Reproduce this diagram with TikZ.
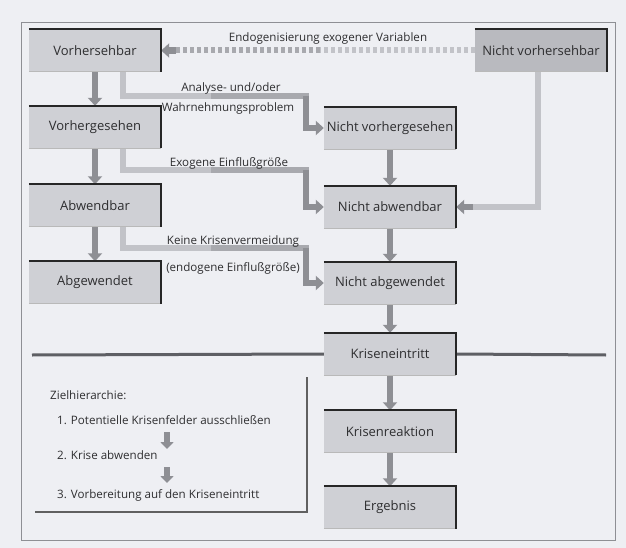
\documentclass[tikz,border=0pt]{standalone}
\usepackage{fontspec}
\setmainfont{Open Sans}
\usetikzlibrary{arrows.meta,calc}
\definecolor{bgc}{HTML}{EEEFF3}
\definecolor{boxc}{HTML}{CFD0D5}
\definecolor{boxd}{HTML}{B9BABF}
\definecolor{arrl}{HTML}{C2C3C8}
\definecolor{arrm}{HTML}{A8A9AE}
\definecolor{arrd}{HTML}{8E8F94}
\definecolor{txt}{HTML}{2E2E30}
\definecolor{framec}{HTML}{8E8F94}
\definecolor{rulec}{HTML}{5E5F64}
\pgfdeclarelayer{bg}\pgfdeclarelayer{arr}\pgfsetlayers{bg,arr,main}
\begin{document}
\begin{tikzpicture}[x=1pt,y=-1pt,
  bx/.style={fill=boxc, minimum width=132pt, minimum height=42pt, inner sep=0pt,
    font=\fontsize{13}{15}\selectfont, text=txt},
  lbl/.style={font=\fontsize{11.6}{13}\selectfont, text=txt, inner sep=0pt},
  topedge/.style={draw=black!85, line width=2pt, line join=miter},
  botedge/.style={draw=gray!55, line width=1.2pt},
  tipD/.style={-{Triangle[width=14pt,length=8pt]}},
  arrD/.style={draw=arrd, line width=6.5pt, tipD},
  arrM/.style={draw=arrm, line width=6.5pt, line cap=rect},
  arrL/.style={draw=arrl, line width=6.5pt, line cap=rect},
  dotstyle/.style={draw=arrl, line width=6pt, dash pattern=on 4pt off 3pt},
  smallarr/.style={draw=arrd, line width=6.5pt, -{Triangle[width=13pt,length=7pt]}}
]
\useasboundingbox (0,0) rectangle (626,548);
\begin{pgfonlayer}{bg}
  \fill[bgc] (0,0) rectangle (626,548);
  \draw[framec, line width=1pt] (21,23) rectangle (615,540);
\end{pgfonlayer}

% boxes
\node[bx] (vs)   at (95,50.5)  {Vorhersehbar};
\node[bx, fill=boxd] (nvs) at (541,50.5) {Nicht vorhersehbar};
\node[bx] (vg)   at (95,127)   {Vorhergesehen};
\node[bx] (nvg)  at (390,128)  {Nicht vorhergesehen};
\node[bx] (ab)   at (95,205.5) {Abwendbar};
\node[bx] (nab)  at (390,207)  {Nicht abwendbar};
\node[bx] (agw)  at (95,282.5) {Abgewendet};
\node[bx] (nagw) at (390,283)  {Nicht abgewendet};
\node[bx] (ke)   at (390,354)  {Kriseneintritt};
\node[bx] (kr)   at (390,431.5) {Krisenreaktion};
\node[bx] (erg)  at (390,507.5) {Ergebnis};

\foreach \n in {vs,nvs,vg,nvg,ab,nab,agw,nagw,ke,kr,erg}{
  \draw[botedge] (\n.south west) -- (\n.south east);
  \draw[topedge] (\n.north west) -- (\n.north east) -- (\n.south east);
}

% labels
\node[lbl] (l0) at (328,38) {Endogenisierung exogener Variablen};
\node[lbl] (l1) at (231,88) {Analyse- und/oder};
\node[lbl] (l2) at (228,108) {Wahrnehmungsproblem};
\node[lbl] (l3) at (229,163) {Exogene Einflußgröße};
\node[lbl] (l4) at (233,241) {Keine Krisenvermeidung};
\node[lbl] (l5) at (233,268) {(endogene Einflußgröße)};

\node[lbl, anchor=west] (z0) at (50,395) {Zielhierarchie:};
\node[lbl, anchor=west] (z1) at (57,420) {1. Potentielle Krisenfelder ausschließen};
\node[lbl, anchor=west] (z2) at (57,455) {2. Krise abwenden};
\node[lbl, anchor=west] (z3) at (57,495) {3. Vorbereitung auf den Kriseneintritt};

% coordinates
\coordinate (h1) at (214,96);  \coordinate (b1) at (306,96);
\coordinate (h2) at (214,170); \coordinate (b2) at (306,170);
\coordinate (h3) at (214,248); \coordinate (b3) at (306,248);
\coordinate (dd) at (176,50.5);
\coordinate (dm) at (320,50.5);
\coordinate (za1) at (167,432); \coordinate (za2) at (167,449);
\coordinate (zb1) at (167,467); \coordinate (zb2) at (167,483);
\coordinate (zh1) at (35,512); \coordinate (zh2) at (307,512); \coordinate (zh3) at (307,377);
\coordinate (r1) at (32,355); \coordinate (r2) at (606,355);
\coordinate (nr) at ($(nab.east)+(14pt,0)$);

\begin{pgfonlayer}{arr}
  % straight down arrows
  \draw[arrD] (vs) -- (vg);
  \draw[arrD] (vg) -- (ab);
  \draw[arrD] (ab) -- (agw);
  \draw[arrD] (nvg) -- (nab);
  \draw[arrD] (nab) -- (nagw);
  \draw[arrD] (nagw) -- (ke);
  \draw[arrD] (ke) -- (kr);
  \draw[arrD] (kr) -- (erg);
  % L-shaped arrows
  \draw[arrL] ([xshift=28pt]vs.south) |- (h1);
  \draw[arrM] (h1) -- (b1);
  \draw[arrD] (b1) |- (nvg.west);
  \draw[arrL] ([xshift=28pt]vg.south) |- (h2);
  \draw[arrM] (h2) -- (b2);
  \draw[arrD] (b2) |- (nab.west);
  \draw[arrL] ([xshift=28pt]ab.south) |- (h3);
  \draw[arrM] (h3) -- (b3);
  \draw[arrD] (b3) |- (nagw.west);
  % from Nicht vorhersehbar
  \draw[arrL, line cap=butt] ([xshift=-3pt]nvs.south) |- (nr);
  \draw[arrD] ([xshift=3pt]nr) -- (nab.east);
  % dotted arrow
  \draw[dotstyle] (nvs.west) -- (dm);
  \draw[dotstyle, draw=arrm, dash phase=0pt] (dm) -- (dd);
  \draw[arrD] (dd) -- (vs.east);
  % rule
  \draw[rulec, line width=3pt] (r1) -- (ke.west);
  \draw[rulec, line width=3pt] (ke.east) -- (r2);
  % Zielhierarchie frame and arrows
  \draw[gray!75!black, line width=1.5pt] (zh1) -- (zh2) -- (zh3);
  \draw[smallarr] (za1) -- (za2);
  \draw[smallarr] (zb1) -- (zb2);
\end{pgfonlayer}
\end{tikzpicture}
\end{document}
